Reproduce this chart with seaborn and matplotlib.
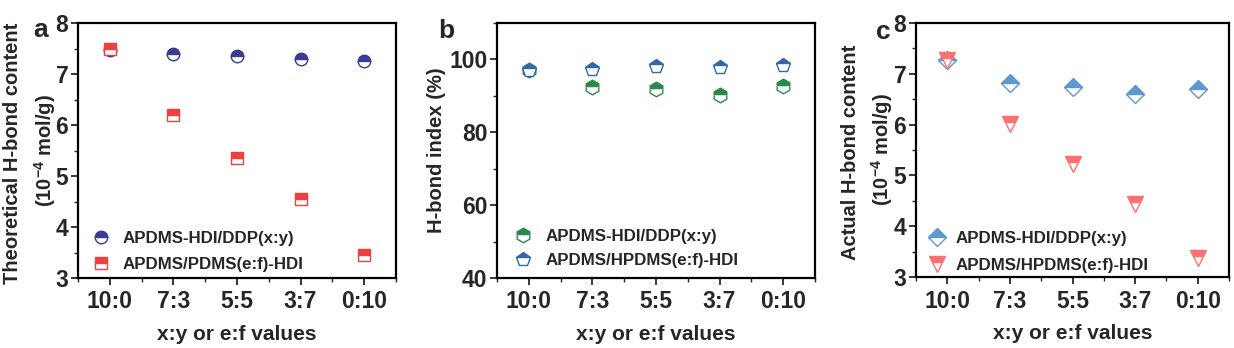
import matplotlib
matplotlib.use("Agg")
import matplotlib.pyplot as plt
from matplotlib.ticker import MultipleLocator
import seaborn as sns
import pandas as pd

ratios = ["10:0", "7:3", "5:5", "3:7", "0:10"]

theo_ddp = [7.48, 7.40, 7.35, 7.30, 7.25]
theo_pdms = [7.50, 6.20, 5.35, 4.55, 3.45]

hidx_ddp = [97.0, 92.3, 91.8, 90.3, 92.6]
hidx_hpdms = [97.2, 97.4, 98.1, 98.0, 98.6]

act_ddp = [7.28, 6.81, 6.75, 6.60, 6.71]
act_hpdms = [7.28, 6.02, 5.22, 4.44, 3.38]

labels_a = ["APDMS-HDI/DDP(x:y)", "APDMS/PDMS(e:f)-HDI"]
labels_b = ["APDMS-HDI/DDP(x:y)", "APDMS/HPDMS(e:f)-HDI"]
labels_c = ["APDMS-HDI/DDP(x:y)", "APDMS/HPDMS(e:f)-HDI"]

sns.set_style("ticks")
plt.rcParams["font.family"] = ["Liberation Sans", "DejaVu Sans"]
plt.rcParams["font.weight"] = "bold"
plt.rcParams["axes.labelweight"] = "bold"
plt.rcParams["mathtext.default"] = "regular"

fig = plt.figure(figsize=(12.34, 3.48), dpi=100)
W, H = 1234, 348


def make_ax(l, r, t, b):
    return fig.add_axes([l / W, 1 - b / H, (r - l) / W, (b - t) / H])


ax_a = make_ax(78, 396, 23, 278)
ax_b = make_ax(497, 815, 23, 278)
ax_c = make_ax(916, 1229, 23, 277)


def draw(ax, y, color, marker, label, ms):
    df = pd.DataFrame({"ratio": ratios, "val": y})
    sns.lineplot(data=df, x="ratio", y="val", ax=ax, color=color, marker=marker,
                 linestyle="none", markersize=ms, fillstyle="top",
                 markerfacecoloralt="white", markeredgecolor=color,
                 markeredgewidth=1.0, label=label, sort=False)


draw(ax_a, theo_ddp, "#3b3b8f", "o", labels_a[0], 9)
draw(ax_a, theo_pdms, "#ef4040", "s", labels_a[1], 8)

draw(ax_b, hidx_ddp, "#2a8a4c", "h", labels_b[0], 10.5)
draw(ax_b, hidx_hpdms, "#3369a6", "p", labels_b[1], 10.5)

draw(ax_c, act_ddp, "#5f98d0", "D", labels_c[0], 9.5)
draw(ax_c, act_hpdms, "#ff7070", "v", labels_c[1], 11)

unit_label = "(10$^{-4}$ mol/g)"

setup = [
    # ax, ylim, major, minor, ylabel, letter, (x1,y1), unit pos, legend anchor, spacing, textpad
    (ax_a, (3, 8), 1, 0.5, "Theoretical H-bond content", "a",
     (-0.206, 0.49), (-0.104, 0.50), (0.007, -0.015), 0.62, 0.7),
    (ax_b, (40, 110), 20, 10, "H-bond index (%)", "b",
     (-0.19, 0.50), None, (0.019, 0.0), 0.55, 0.7),
    (ax_c, (3, 8), 1, 0.5, "Actual H-bond content", "c",
     (-0.209, 0.49), (-0.107, 0.50), (0.001, -0.025), 0.72, 0.5),
]

for ax, ylim, maj, mnr, ylab, letter, p1, p2, lbb, lsp, htp in setup:
    ax.set_xlim(-0.5, 4.5)
    ax.set_ylim(*ylim)
    ax.yaxis.set_major_locator(MultipleLocator(maj))
    ax.yaxis.set_minor_locator(MultipleLocator(mnr))
    ax.xaxis.set_minor_locator(MultipleLocator(0.5))
    if letter == "b":
        ax.set_yticks([40, 60, 80, 100])
    ax.tick_params(axis="both", which="major", direction="out", length=5,
                   width=1.3, top=False, right=False)
    ax.tick_params(axis="both", which="minor", direction="out", length=3,
                   width=1.0, top=False, right=False)
    ax.tick_params(axis="y", labelsize=16.5, pad=2)
    ax.tick_params(axis="x", labelsize=16.5, pad=4)
    for lab in ax.get_xticklabels() + ax.get_yticklabels():
        lab.set_fontweight("bold")
    for s in ax.spines.values():
        s.set_visible(True)
        s.set_linewidth(1.6)
        s.set_color("black")
    ax.set_xlabel("x:y or e:f values", fontsize=15, fontweight="bold", labelpad=8)
    ax.set_ylabel(ylab, fontsize=14.5, fontweight="bold")
    ax.yaxis.label.set_verticalalignment("center")
    ax.yaxis.set_label_coords(*p1)
    if p2 is not None:
        ax.text(p2[0], p2[1], unit_label, transform=ax.transAxes, rotation=90,
                ha="center", va="center", fontsize=14.5, fontweight="bold")
    ax.legend(loc="lower left", bbox_to_anchor=lbb, frameon=False,
              handletextpad=htp, borderaxespad=0.2, labelspacing=lsp,
              handlelength=1.2, prop={"weight": "bold", "size": 12.2})

fig.text(41 / W, 1 - 30 / H, "a", fontsize=19, fontweight="bold", ha="center", va="center")
fig.text(446 / W, 1 - 31 / H, "b", fontsize=19, fontweight="bold", ha="center", va="center")
fig.text(883 / W, 1 - 32 / H, "c", fontsize=19, fontweight="bold", ha="center", va="center")

fig.savefig("out.png", dpi=100)
